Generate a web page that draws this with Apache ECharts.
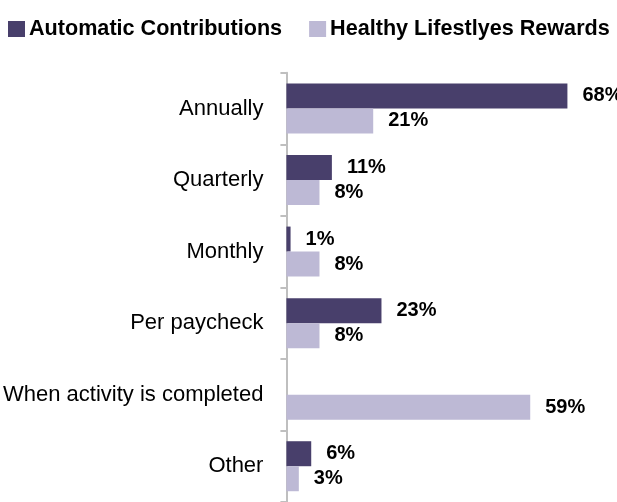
<!DOCTYPE html>
<html><head><meta charset="utf-8">
<script src="https://cdn.jsdelivr.net/npm/echarts@6/dist/echarts.min.js"></script>
<style>html,body{margin:0;padding:0;background:#fff}#c{width:617px;height:502px}</style>
</head><body><div id="c"></div>
<script>
const categories = ['Annually','Quarterly','Monthly','Per paycheck','When activity is completed','Other'];
const automatic = [68, 11, 1, 23, null, 6];
const healthy = [21, 8, 8, 8, 59, 3];
const seriesNames = ['Automatic Contributions','Healthy Lifestlyes Rewards'];
const FONT = '"Liberation Sans", Arial, sans-serif';
const chart = echarts.init(document.getElementById('c'));
const lbl = {show:true, position:'right', distance:15, formatter:'{c}%', color:'#000', fontWeight:'bold', fontSize:20, fontFamily:FONT};
chart.setOption({
  animation:false,
  legend:{left:8, top:18, width:700, padding:0, icon:'rect', itemWidth:17, itemHeight:16, itemGap:27,
    textStyle:{fontFamily:FONT, fontWeight:'bold', fontSize:21.6, color:'#000', padding:[0,0,0,-1]}, data:seriesNames},
  grid:{left:285.5, right:-3, top:72.7, bottom:-2.7, containLabel:false},
  xAxis:{type:'value', min:0, max:80, show:false},
  yAxis:{type:'category', data:categories, inverse:true,
    axisLine:{lineStyle:{color:'#bfbfbf', width:2}},
    axisTick:{show:true, length:6, lineStyle:{color:'#bfbfbf', width:2}},
    axisLabel:{margin:23, color:'#000', fontSize:22, fontFamily:FONT}},
  series:[
    {name:seriesNames[0], type:'bar', data:automatic, barWidth:25, barGap:'0%', itemStyle:{color:'#483f6b'}, label:lbl},
    {name:seriesNames[1], type:'bar', data:healthy, barWidth:25, barGap:'0%', itemStyle:{color:'#bdb9d5'}, label:lbl}
  ]
});
</script></body></html>
